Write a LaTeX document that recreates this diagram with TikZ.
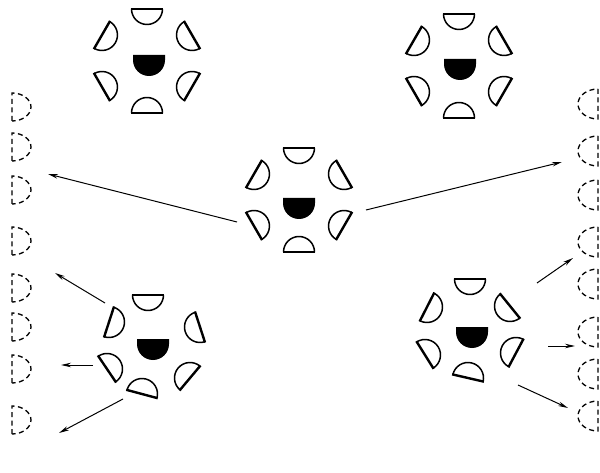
\documentclass[tikz,border=0pt]{standalone}
\usetikzlibrary{arrows.meta}
\tikzset{
  curveline/.style={line width=1.5pt, line join=round},
  flatline/.style={line width=2.4pt, line cap=butt},
  dsh/.style={line width=1.3pt, dash pattern=on 5pt off 3.5pt},
  arr/.style={line width=1pt, -{Stealth[length=10pt,width=4.5pt]}},
  piece/.pic={
    \draw[curveline] (-15.5,0) arc[start angle=180,end angle=360,radius=15.5pt];
    \draw[flatline] (-16.3,0) -- (16.3,0);
  },
  core/.pic={
    \fill (-16,0) -- (-16,-5) arc[start angle=180,end angle=360,radius=16pt] -- (16,0) -- cycle;
  }
}
% standard cluster: centre x, centre y (pixels, y down), core x, core y
\newcommand\StdCluster[4]{%
  \begin{scope}[shift={(#1,472-#2)}]
    \foreach \a in {90,30,-30,-90,-150,150} {\pic[rotate=\a-90] at (\a:52) {piece};}
  \end{scope}
  \pic at (#3,472-#4) {core};
}
% single piece: flat midpoint x, y (pixels), outward normal angle
\newcommand\OnePiece[3]{\pic[rotate=#3-90] at (#1,472-#2) {piece};}
\newcommand\LeftD[1]{\draw[dsh] (12,472-#1-14) -- (12,472-#1+14) arc[start angle=90,end angle=-90,x radius=19pt,y radius=14pt];}
\newcommand\RightD[1]{\draw[dsh] (598,472-#1+15) -- (598,472-#1-15) arc[start angle=270,end angle=90,x radius=20pt,y radius=15pt];}
\begin{document}
\begin{tikzpicture}[x=1pt,y=1pt]
\fill[white] (0,0) rectangle (600,472);
\useasboundingbox (0,0) rectangle (600,472);

% regular clusters
\StdCluster{147}{61}{149}{55}
\StdCluster{459}{66}{460}{59}
\StdCluster{299}{200}{299}{198}

% bottom-right cluster
\OnePiece{470}{279}{90}
\OnePiece{427}{307}{153}
\OnePiece{510}{306}{39}
\OnePiece{425}{355}{212}
\OnePiece{516}{353}{332}
\OnePiece{468}{378}{257}
\pic at (472,472-327) {core};

% bottom-left cluster
\OnePiece{148}{295}{90}
\OnePiece{109}{322}{162}
\OnePiece{200}{327}{18}
\OnePiece{107}{369}{214}
\OnePiece{190}{378}{320}
\OnePiece{142}{394}{255}
\pic at (153,472-339) {core};

% dashed columns
\foreach \y in {107,147,190,241,288,327,369,420} {\LeftD{\y}}
\foreach \y in {104,151,195,242,284,332,374,416} {\RightD{\y}}

% arrow end points
\coordinate (a1s) at (237,472-222); \coordinate (a1e) at (48,472-174);
\coordinate (a2s) at (366,472-210); \coordinate (a2e) at (562,472-162);
\coordinate (b1s) at (105,472-303); \coordinate (b1e) at (55,472-273);
\coordinate (b2s) at (93,472-365);  \coordinate (b2e) at (61,472-365);
\coordinate (b3s) at (123,472-399); \coordinate (b3e) at (59,472-433);
\coordinate (c1s) at (537,472-283); \coordinate (c1e) at (573,472-258);
\coordinate (c2s) at (548,472-346); \coordinate (c2e) at (575,472-346);
\coordinate (c3s) at (518,472-385); \coordinate (c3e) at (568,472-408);

\foreach \p in {a1,a2,b1,b2,b3,c1,c2,c3} {\draw[arr] (\p s) -- (\p e);}
\end{tikzpicture}
\end{document}
